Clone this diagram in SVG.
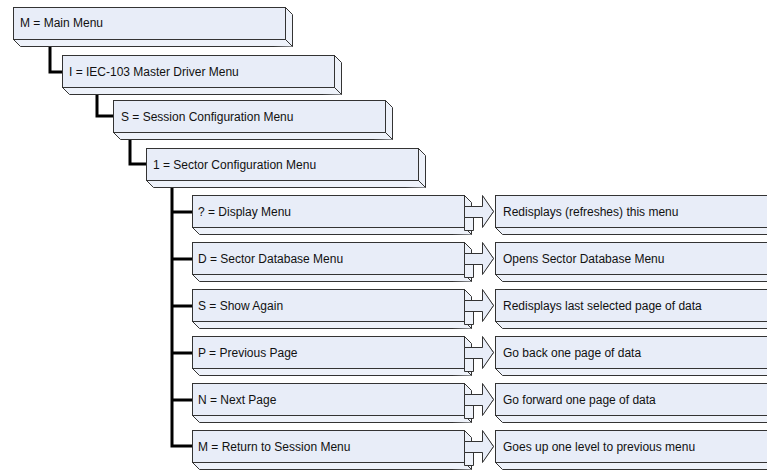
<svg xmlns="http://www.w3.org/2000/svg" width="767" height="473" viewBox="0 0 767 473">
<style>
.f{fill:#e8edf8;stroke:#333;stroke-width:1;stroke-linejoin:miter}
.s{fill:#eef2fa;stroke:#333;stroke-width:1;stroke-linejoin:miter}
.t{font-family:"Liberation Sans",Arial,sans-serif;font-size:12px;fill:#111}
.c{fill:none;stroke:#000;stroke-width:3}
</style>
<defs>
<g id="box">
<path class="s" d="M0,0 L272,0 L279,7 L279,39 L7,39 L0,32 Z"/>
<path class="s" d="M0,32 L272,32 L279,39 M272,0 L272,32"/>
<rect class="f" x="0" y="0" width="272" height="32"/>
</g>
<g id="rbox">
<path class="s" d="M0,0 L300,0 L300,39 L7,39 L0,32 Z"/>
<path class="s" d="M0,32 L300,32"/>
<rect class="f" x="0" y="0" width="300" height="32"/>
</g>
<g id="arrow">
<path class="s" d="M0,11 L18,11 L18,1 L29,16 L18,31 L18,22 L9,22 L9,35 L0,35 Z"/>
<path class="f" d="M0,11 L18,11 L18,0 L29,16 L18,32 L18,22 L0,22 Z"/>
</g>
</defs>
<g id="connectors">
<path class="c" d="M50,44 V72 H62"/>
<path class="c" d="M97,92 V116 H113"/>
<path class="c" d="M130,138 V164 H146"/>
<path class="c" d="M172,187 V446 H192"/>
<path class="c" d="M172,212 H192 M172,259 H192 M172,306 H192 M172,353 H192 M172,400 H192"/>
</g>
<g id="n-main"><use href="#box" x="13.5" y="7.5"/><text class="t" x="20" y="27">M = Main Menu</text></g>
<g id="n-iec"><use href="#box" x="62.5" y="55.5"/><text class="t" x="69" y="76">I = IEC-103 Master Driver Menu</text></g>
<g id="n-session"><use href="#box" x="113.5" y="100.5"/><text class="t" x="121" y="121">S = Session Configuration Menu</text></g>
<g id="n-sector"><use href="#box" x="146.5" y="148.5"/><text class="t" x="153" y="169">1 = Sector Configuration Menu</text></g>

<g id="n-display"><use href="#box" x="192.5" y="195.5"/><text class="t" x="198" y="216">? = Display Menu</text></g>
<g id="a-display"><use href="#arrow" x="464.5" y="195.5"/></g>
<g id="r-display"><use href="#rbox" x="495.5" y="195.5"/><text class="t" x="503" y="216">Redisplays (refreshes) this menu</text></g>

<g id="n-database"><use href="#box" x="192.5" y="242.5"/><text class="t" x="198" y="263">D = Sector Database Menu</text></g>
<g id="a-database"><use href="#arrow" x="464.5" y="242.5"/></g>
<g id="r-database"><use href="#rbox" x="495.5" y="242.5"/><text class="t" x="503" y="263">Opens Sector Database Menu</text></g>

<g id="n-show"><use href="#box" x="192.5" y="289.5"/><text class="t" x="198" y="310">S = Show Again</text></g>
<g id="a-show"><use href="#arrow" x="464.5" y="289.5"/></g>
<g id="r-show"><use href="#rbox" x="495.5" y="289.5"/><text class="t" x="503" y="310">Redisplays last selected page of data</text></g>

<g id="n-prev"><use href="#box" x="192.5" y="336.5"/><text class="t" x="198" y="357">P = Previous Page</text></g>
<g id="a-prev"><use href="#arrow" x="464.5" y="336.5"/></g>
<g id="r-prev"><use href="#rbox" x="495.5" y="336.5"/><text class="t" x="503" y="357">Go back one page of data</text></g>

<g id="n-next"><use href="#box" x="192.5" y="383.5"/><text class="t" x="198" y="404">N = Next Page</text></g>
<g id="a-next"><use href="#arrow" x="464.5" y="383.5"/></g>
<g id="r-next"><use href="#rbox" x="495.5" y="383.5"/><text class="t" x="503" y="404">Go forward one page of data</text></g>

<g id="n-return"><use href="#box" x="192.5" y="430.5"/><text class="t" x="198" y="451">M = Return to Session Menu</text></g>
<g id="a-return"><use href="#arrow" x="464.5" y="430.5"/></g>
<g id="r-return"><use href="#rbox" x="495.5" y="430.5"/><text class="t" x="503" y="451">Goes up one level to previous menu</text></g>
</svg>
